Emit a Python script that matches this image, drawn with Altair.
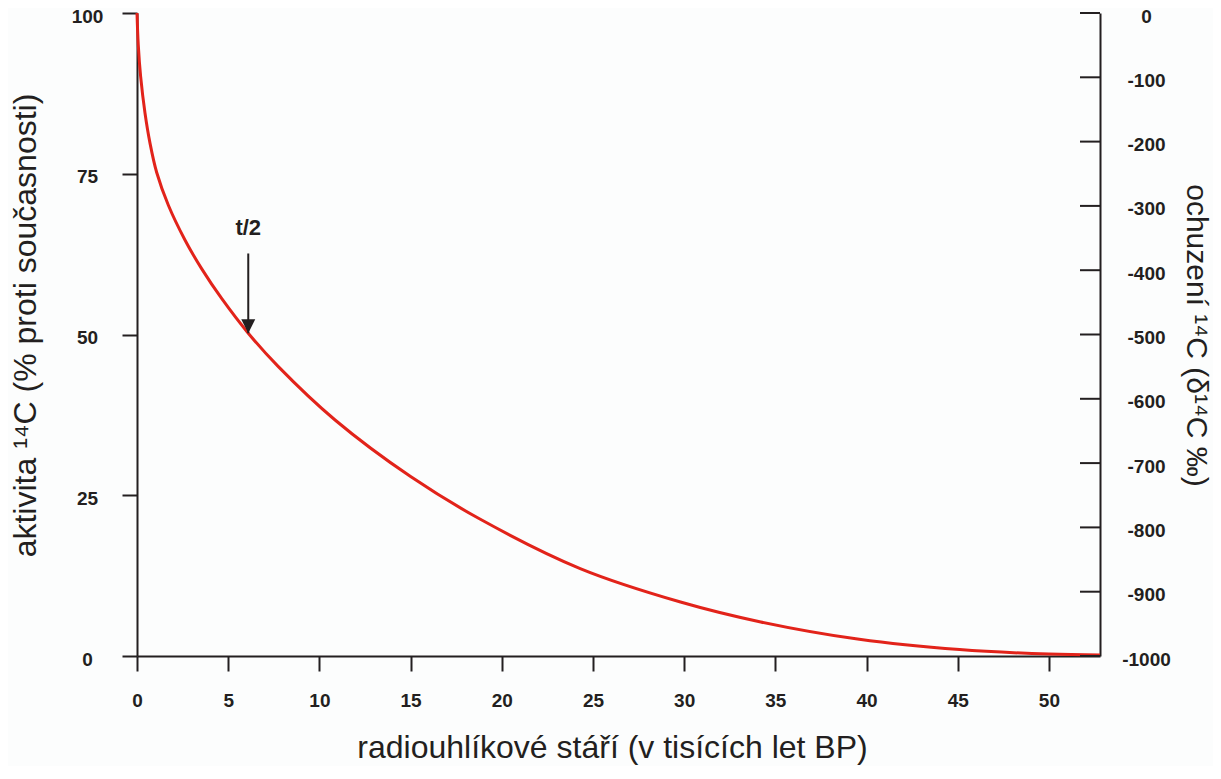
import altair as alt
import pandas as pd

# Curve: age (thousands of years BP) vs 14C activity (%)
age = [0, 0.07, 0.2, 0.44, 0.71, 1.08, 1.72, 2.63, 3.55, 4.64, 6.1, 7.75,
       10.86, 15.0, 18.8, 24.3, 29.8, 34.2, 39.6, 45.1, 50.0, 52.8]
activity = [100, 95.0, 90.1, 84.4, 79.8, 75.2, 70.1, 64.7, 60.2, 55.6, 50.2, 45.0,
            36.7, 27.9, 21.3, 13.6, 8.4, 5.3, 2.6, 1.0, 0.3, 0.15]

x_ticks = [0, 5, 10, 15, 20, 25, 30, 35, 40, 45, 50]
left_ticks = [0, 25, 50, 75, 100]
right_ticks = [0, -100, -200, -300, -400, -500, -600, -700, -800, -900, -1000]

# half-life annotation
arrow_t = [6.1]
arrow_top = [62.6]
arrow_tip = [50.2]
label_v = [66.6]
label_text = ["t/2"]

W, H = 963, 643
INK = "#231f20"
RED = "#e2231a"
TICK_FONT = "Liberation Sans, Arial, Helvetica, sans-serif"

curve_df = pd.DataFrame({"t": age, "v": activity})
arrow_df = pd.DataFrame({"t": arrow_t, "top": arrow_top, "tip": arrow_tip,
                         "lv": label_v, "txt": label_text})
right_df = pd.DataFrame({"d": right_ticks})

x_scale = alt.Scale(domain=[0, 52.8], nice=False, zero=False)
y_scale = alt.Scale(domain=[0, 100], nice=False)
r_scale = alt.Scale(domain=[-1000, 0], nice=False)

x_axis = alt.Axis(
    values=x_ticks, grid=False,
    domainColor=INK, domainWidth=2, tickColor=INK, tickWidth=2, tickSize=15,
    labelFont=TICK_FONT, labelFontWeight="bold", labelFontSize=19, labelColor=INK,
    labelPadding=29, labelBaseline="middle", labelFlush=False, labelOverlap=False,
    title="radiouhlíkové stáří (v tisících let BP)",
    titleFont=TICK_FONT, titleFontSize=32, titleFontWeight="normal", titleColor=INK,
    titleX=475, titleY=101, titleAlign="center", titleBaseline="alphabetic",
)

left_axis = alt.Axis(
    values=left_ticks, grid=False, orient="left",
    domainColor=INK, domainWidth=2, tickColor=INK, tickWidth=2, tickSize=15,
    labelFont=TICK_FONT, labelFontWeight="bold", labelFontSize=19, labelColor=INK,
    labelPadding=35, labelAlign="center", labelBaseline="middle", labelFlush=False,
    labelOverlap=False, labelOffset=3,
    title="aktivita ¹⁴C (% proti současnosti)",
    titleFont=TICK_FONT, titleFontSize=32, titleFontWeight="normal", titleColor=INK,
    titleAngle=270, titleX=-112, titleY=312, titleAlign="center", titleBaseline="middle",
)

right_axis = alt.Axis(
    values=right_ticks, grid=False, orient="right",
    domainColor=INK, domainWidth=2, ticks=True, tickSize=0, tickWidth=0,
    labelFont=TICK_FONT, labelFontWeight="bold", labelFontSize=19, labelColor=INK,
    labelPadding=46, labelAlign="center", labelBaseline="middle", labelFlush=False,
    labelOverlap=False, labelOffset=3,
    labelExpr="'' + datum.value",
    title="ochuzení ¹⁴C (δ¹⁴C ‰)",
    titleFont=TICK_FONT, titleFontSize=30, titleFontWeight="normal", titleColor=INK,
    titleAngle=90, titleX=95, titleY=322, titleAlign="center", titleBaseline="middle",
)

line = alt.Chart(curve_df).mark_line(color=RED, strokeWidth=3, interpolate="catmull-rom").encode(
    x=alt.X("t:Q", scale=x_scale, axis=x_axis),
    y=alt.Y("v:Q", scale=y_scale, axis=left_axis),
)

arrow = alt.Chart(arrow_df).mark_rule(color=INK, strokeWidth=2).encode(
    x=alt.X("t:Q", scale=x_scale),
    y=alt.Y("top:Q", scale=y_scale),
    y2="tip:Q",
)

head = alt.Chart(arrow_df).mark_point(
    shape="M-1,-1L1,-1L0,1Z", filled=True, color=INK, opacity=1, size=196, yOffset=-7
).encode(
    x=alt.X("t:Q", scale=x_scale),
    y=alt.Y("tip:Q", scale=y_scale),
)

label = alt.Chart(arrow_df).mark_text(
    font=TICK_FONT, fontWeight="bold", fontSize=22, color=INK,
    align="center", baseline="middle"
).encode(
    x=alt.X("t:Q", scale=x_scale),
    y=alt.Y("lv:Q", scale=y_scale),
    text="txt:N",
)

left_group = alt.layer(line, arrow, head, label)

right_layer = alt.Chart(right_df).mark_rule(color=INK, strokeWidth=2).encode(
    y=alt.Y("d:Q", scale=r_scale, axis=right_axis),
    x=alt.value(W - 20),
    x2=alt.value(W),
)

chart = alt.layer(left_group, right_layer).resolve_scale(y="independent").properties(
    width=W, height=H,
    padding={"left": 129, "top": 5, "right": 113, "bottom": 110},
    autosize=alt.AutoSizeParams(type="none"),
    background="#fcfdfd",
).configure_view(stroke=None)

chart.save("out.html", embed_options={"renderer": "svg", "actions": False})
